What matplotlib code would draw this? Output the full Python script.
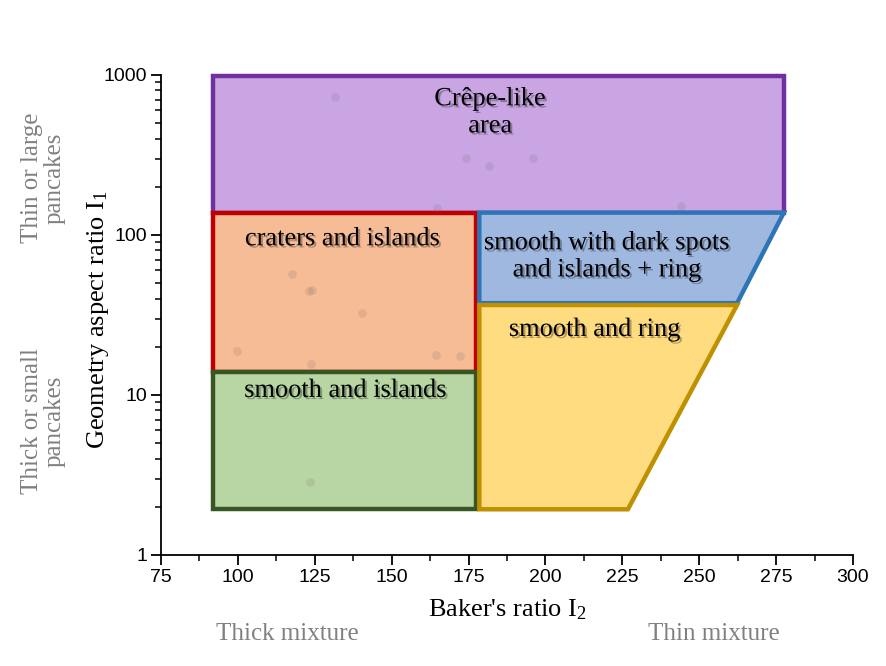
import matplotlib.pyplot as plt
import matplotlib.patheffects as pe
from matplotlib.patches import Polygon
from matplotlib.ticker import FixedLocator, NullFormatter

plt.rcParams['mathtext.fontset'] = 'custom'
plt.rcParams['mathtext.rm'] = 'Liberation Serif'
plt.rcParams['mathtext.it'] = 'Liberation Serif'

# region outlines (Baker's ratio I2, aspect ratio I1)
crepe_x = [92, 277.5, 277.5, 92]
crepe_y = [985, 985, 138, 138]
craters_x = [92, 177.5, 177.5, 92]
craters_y = [138, 138, 14, 14]
smooth_isl_x = [92, 177.5, 177.5, 92]
smooth_isl_y = [14, 14, 1.93, 1.93]
spots_x = [178.5, 277.5, 262.3, 178.5]
spots_y = [138, 138, 37.5, 37.5]
ring_x = [178.5, 262.3, 226.8, 178.5]
ring_y = [36.5, 36.5, 1.93, 1.93]

# measured samples (faint dots)
pts_x = [131.5, 174.2, 181.6, 196.0, 164.7, 244.0,
         117.6, 123.0, 124.0, 140.4, 99.7, 123.8, 164.4, 172.2, 123.4]
pts_y = [729, 305, 268, 305, 147, 151,
         57, 44.5, 45, 32.5, 18.8, 15.6, 17.8, 17.6, 2.86]

x_ticks = [75, 100, 125, 150, 175, 200, 225, 250, 275, 300]
y_ticks = [1, 10, 100, 1000]

regions = [
    (crepe_x, crepe_y, '#C9A6E3', '#7030A0', 'Crêpe-like\narea', (182, 580)),
    (craters_x, craters_y, '#F5BC96', '#C00000', 'craters and islands', (134, 94)),
    (smooth_isl_x, smooth_isl_y, '#B8D6A4', '#375623', 'smooth and islands', (135, 10.6)),
    (spots_x, spots_y, '#9FB8E0', '#2E75B6', 'smooth with dark spots\nand islands + ring', (220, 73)),
    (ring_x, ring_y, '#FFDC7F', '#BF9000', 'smooth and ring', (216, 25.5)),
]

serif = ['Liberation Serif', 'DejaVu Serif']
sans = ['Liberation Sans', 'DejaVu Sans']

fig = plt.figure(figsize=(8.87, 6.66), dpi=100)
ax = fig.add_axes([0.1815, 0.1667, 0.7802, 0.7207])
ax.set_yscale('log')
ax.set_xlim(75, 300)
ax.set_ylim(1, 1000)

for xs, ys, fc, ec, label, pos in regions:
    poly = Polygon(list(zip(xs, ys)), closed=True, facecolor=fc, edgecolor=ec,
                   linewidth=3.2, joinstyle='miter', zorder=2, clip_on=False)
    ax.add_patch(poly)
    ax.text(pos[0], pos[1], label, ha='center', va='center', fontsize=19,
            family=serif, color='black', linespacing=1.3, zorder=5,
            path_effects=[pe.SimplePatchShadow(offset=(1.5, -1.5), alpha=0.3),
                          pe.Normal()])

ax.scatter(pts_x, pts_y, s=40, color='#6b5a5a', alpha=0.14, linewidths=0, zorder=3)

for s in ['top', 'right']:
    ax.spines[s].set_visible(False)
for s in ['left', 'bottom']:
    ax.spines[s].set_linewidth(1.3)

ax.xaxis.set_major_locator(FixedLocator(x_ticks))
ax.xaxis.set_minor_locator(FixedLocator([t + 12.5 for t in x_ticks[:-1]]))
ax.yaxis.set_major_locator(FixedLocator(y_ticks))
ax.yaxis.set_minor_locator(FixedLocator([m * 10 ** e for e in range(3) for m in range(2, 10)]))
ax.yaxis.set_minor_formatter(NullFormatter())
ax.set_xticklabels([str(t) for t in x_ticks])
ax.set_yticklabels([str(t) for t in y_ticks])
ax.tick_params(which='major', direction='out', length=7, width=1.3, labelsize=14, pad=3)
ax.tick_params(which='minor', direction='out', length=4, width=1.1)
for lab in ax.get_xticklabels() + ax.get_yticklabels():
    lab.set_family(sans)

ax.set_xlabel(r"Baker's ratio I$_{\mathrm{2}}$", fontsize=19, family=serif, labelpad=8)
ax.set_ylabel(r"Geometry aspect ratio I$_{\mathrm{1}}$", fontsize=19, family=serif)
ax.yaxis.set_label_coords(-0.072, 0.49)

gray = '#808080'
fig.text(0.324, 0.048, 'Thick mixture', fontsize=18, family=serif, color=gray, ha='center', va='center')
fig.text(0.805, 0.048, 'Thin mixture', fontsize=18, family=serif, color=gray, ha='center', va='center')
fig.text(0.049, 0.733, 'Thin or large\npancakes', fontsize=18, family=serif, color=gray,
         ha='center', va='center', rotation=90, linespacing=1.05)
fig.text(0.049, 0.368, 'Thick or small\npancakes', fontsize=18, family=serif, color=gray,
         ha='center', va='center', rotation=90, linespacing=1.05)

fig.savefig('out.png', dpi=100)
